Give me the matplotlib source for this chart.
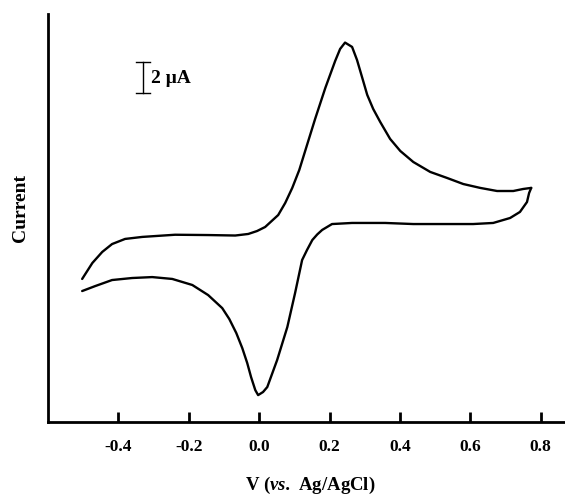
import matplotlib
matplotlib.use("Agg")
import matplotlib.pyplot as plt

plt.rcParams['font.family'] = ['Liberation Serif', 'DejaVu Serif']
plt.rcParams['font.weight'] = 'bold'
plt.rcParams['mathtext.fontset'] = 'custom'
plt.rcParams['mathtext.rm'] = 'Liberation Serif:bold'
plt.rcParams['mathtext.bfit'] = 'Liberation Serif:italic:bold'

# forward (anodic) scan, -0.5 V -> 0.77 V, current in uA (arbitrary offset)
fwd_v = [-0.503, -0.474, -0.446, -0.418, -0.381, -0.332, -0.239, -0.145, -0.068,
         -0.031, -0.006, 0.017, 0.054, 0.074, 0.094, 0.114, 0.136, 0.159, 0.188,
         0.216, 0.230, 0.244, 0.264, 0.278, 0.293, 0.307, 0.324, 0.344, 0.372,
         0.401, 0.438, 0.486, 0.534, 0.580, 0.628, 0.676, 0.722, 0.750, 0.773]
fwd_i = [9.23, 10.26, 10.97, 11.48, 11.81, 11.94, 12.08, 12.06, 12.03,
         12.13, 12.32, 12.58, 13.35, 14.13, 15.10, 16.26, 17.87, 19.55, 21.55,
         23.29, 24.06, 24.47, 24.19, 23.35, 22.19, 21.10, 20.19, 19.35, 18.26,
         17.48, 16.77, 16.13, 15.74, 15.35, 15.10, 14.90, 14.90, 15.03, 15.10]

# reverse (cathodic) scan, 0.77 V -> -0.5 V
rev_v = [0.773, 0.767, 0.761, 0.741, 0.713, 0.665, 0.608, 0.534, 0.438, 0.358,
         0.264, 0.207, 0.179, 0.165, 0.151, 0.136, 0.122, 0.102, 0.080,
         0.051, 0.023, 0.011, -0.003, -0.011, -0.023, -0.034, -0.048, -0.065,
         -0.085, -0.105, -0.145, -0.190, -0.247, -0.304, -0.361, -0.418, -0.466,
         -0.503]
rev_i = [15.10, 14.77, 14.19, 13.55, 13.16, 12.84, 12.77, 12.77, 12.77, 12.84,
         12.84, 12.77, 12.39, 12.10, 11.74, 11.10, 10.45, 8.32, 6.13,
         4.00, 2.26, 1.94, 1.74, 2.06, 2.90, 3.81, 4.77, 5.74,
         6.65, 7.35, 8.19, 8.84, 9.23, 9.35, 9.29, 9.16, 8.77,
         8.45]

xticks = [-0.4, -0.2, 0.0, 0.2, 0.4, 0.6, 0.8]
xticklabels = ['-0.4', '-0.2', '0.0', '0.2', '0.4', '0.6', '0.8']

fig = plt.figure(figsize=(5.65, 4.96), dpi=100)
ax = fig.add_axes([0.085, 0.149, 0.915, 0.823])

ax.plot(fwd_v, fwd_i, color='black', lw=1.7, solid_joinstyle='round', solid_capstyle='round')
ax.plot(rev_v, rev_i, color='black', lw=1.7, solid_joinstyle='round', solid_capstyle='round')

ax.set_xlim(-0.60, 0.869)
ax.set_ylim(0, 26.32)

for s in ['top', 'right']:
    ax.spines[s].set_visible(False)
ax.spines['left'].set_linewidth(2)
ax.spines['bottom'].set_linewidth(2)

ax.set_xticks(xticks)
ax.set_xticklabels(xticklabels, fontsize=12.5, fontweight='bold')
ax.tick_params(axis='x', direction='in', length=7, width=2, pad=12)
ax.set_yticks([])

fig.text(0.55, 0.022, r'V ($\mathbfit{vs.}$ Ag/AgCl)', fontsize=13.5, fontweight='bold',
         ha='center', va='center')
fig.text(0.037, 0.58, 'Current', fontsize=14, fontweight='bold', rotation=90,
         ha='center', va='center')

# 2 uA scale bar
ax.plot([-0.330, -0.330], [21.23, 23.23], color='black', lw=1)
ax.plot([-0.351, -0.309], [23.23, 23.23], color='black', lw=1)
ax.plot([-0.351, -0.309], [21.23, 21.23], color='black', lw=1)
ax.text(-0.307, 22.15, '2 μA', fontsize=14, fontweight='bold', va='center', ha='left')

fig.savefig('out.png', dpi=100)
